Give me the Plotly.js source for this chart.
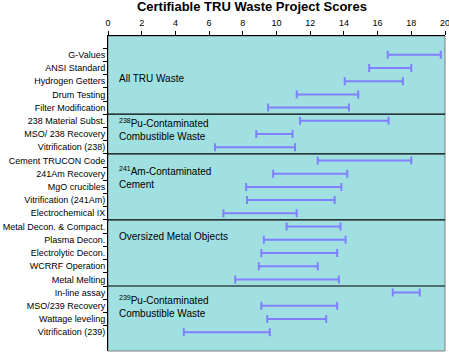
<!DOCTYPE html>
<html><head><meta charset="utf-8">
<script src="https://cdn.plot.ly/plotly-3.0.1.min.js"></script>
<style>html,body{margin:0;padding:0;background:#fff}#chart{width:449px;height:352px}</style>
</head><body><div id="chart"></div>
<script>
const projects = ["G-Values","ANSI Standard","Hydrogen Getters","Drum Testing","Filter Modification",
  "238 Material Subst.","MSO/ 238 Recovery","Vitrification (238)",
  "Cement TRUCON Code","241Am Recovery","MgO crucibles","Vitrification (241Am)","Electrochemical IX",
  "Metal Decon. & Compact.","Plasma Decon.","Electrolytic Decon.","WCRRF Operation","Metal Melting",
  "In-line assay","MSO/239 Recovery","Wattage leveling","Vitrification (239)"];
const scoreLow  = [16.6,15.5,14.05,11.2,9.5, 11.4,8.8,6.35, 12.45,9.8,8.2,8.25,6.85, 10.6,9.25,9.1,8.95,7.55, 16.9,9.1,9.45,4.5];
const scoreHigh = [19.75,18.0,17.5,14.85,14.3, 16.65,10.95,11.1, 18.0,14.2,13.85,13.45,11.2, 13.8,14.1,13.6,12.45,13.7, 18.5,13.6,12.95,9.6];
const groupNames = ["All TRU Waste","<sup>238</sup>Pu-Contaminated<br>Combustible Waste",
  "<sup>241</sup>Am-Contaminated<br>Cement","Oversized Metal Objects",
  "<sup>239</sup>Pu-Contaminated<br>Combustible Waste"];
const groupSizes = [5,3,5,5,4];
const groupLabelRow = [1.8,5.65,9.28,13.75,19.02];
const xTicks = [0,2,4,6,8,10,12,14,16,18,20];
const xMax = 20;

const mid = scoreLow.map((v,i)=>(v+scoreHigh[i])/2);
const half = scoreLow.map((v,i)=>(scoreHigh[i]-v)/2);

const trace = {
  type:'scatter', mode:'markers', x: mid, y: projects,
  marker:{size:1, color:'rgba(0,0,0,0)'},
  error_x:{type:'data', symmetric:true, array: half, color:'#8080ff', thickness:2, width:4},
  hoverinfo:'skip', showlegend:false
};

const fontFam = 'Liberation Sans, Arial, sans-serif';
const shapes = [{type:'rect', xref:'paper', yref:'paper', x0:0, x1:1, y0:0, y1:1,
  line:{color:'#808080', width:1}, layer:'below'}];
let acc = 0;
for (let g=0; g<groupSizes.length-1; g++) {
  acc += groupSizes[g];
  shapes.push({type:'line', xref:'paper', yref:'y', x0:0, x1:1, y0:acc-0.5, y1:acc-0.5,
    line:{color:'#000', width:1.2}});
}
const annotations = groupNames.map((t,g)=>({
  text:t, xref:'x', yref:'y', x:0.55, y:groupLabelRow[g], xanchor:'left', yanchor:'middle',
  align:'left', showarrow:false, font:{family:fontFam, size:10, color:'#000'}
}));
// last tick label at the right edge (Plotly hides it because it touches the page border)
annotations.push({text:String(xMax), xref:'x', yref:'paper', x:xMax, y:1, xanchor:'center', yanchor:'bottom',
  yshift:7, showarrow:false, borderpad:0, font:{family:fontFam, size:9, color:'#000'}});

const layout = {
  width:449, height:352,
  margin:{l:108, r:4, t:36, b:1, pad:0},
  paper_bgcolor:'#ffffff', plot_bgcolor:'#a0e0e0',
  title:{text:'<b>Certifiable TRU Waste Project Scores</b>', x:0.561, xref:'container', xanchor:'center',
    y:0.982, yref:'container', yanchor:'middle', font:{family:fontFam, size:13, color:'#000'}},
  xaxis:{side:'top', range:[0,xMax], tickvals:xTicks, ticktext:xTicks.map(String), ticks:'outside', ticklen:4,
    automargin:false, ticklabelstandoff:1,
    tickcolor:'#000', showgrid:false, zeroline:false, showline:true, linecolor:'#000', linewidth:1,
    tickfont:{family:fontFam, size:9, color:'#000'}, fixedrange:true},
  yaxis:{type:'category', categoryorder:'array', categoryarray:projects, autorange:'reversed',
    tickson:'boundaries', ticks:'outside', ticklen:4, tickcolor:'#000', showgrid:false, zeroline:false,
    showline:true, linecolor:'#000', linewidth:1, automargin:false,
    tickfont:{family:fontFam, size:9, color:'#000'}, fixedrange:true},
  shapes, annotations
};
Plotly.newPlot('chart',[trace],layout,{staticPlot:true, displayModeBar:false});
</script></body></html>
